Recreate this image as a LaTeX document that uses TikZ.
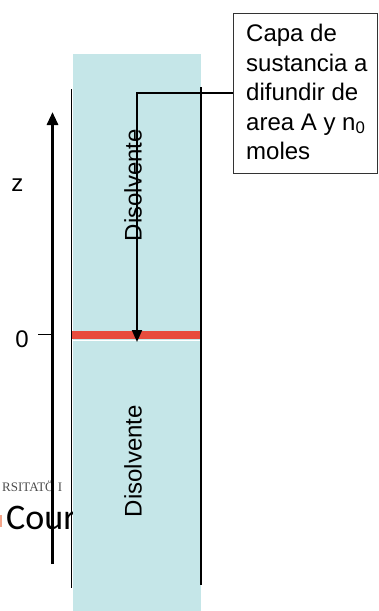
\documentclass[tikz,border=0pt]{standalone}
\usepackage{fontspec}
\setmainfont{Liberation Sans}
\newfontfamily\wmfont{Carlito}
\newfontfamily\wmserif{Liberation Serif}
\usetikzlibrary{arrows.meta}
\definecolor{solv}{HTML}{C5E6E8}
\definecolor{layer}{HTML}{E84C3D}
\definecolor{wmorange}{HTML}{F4A58A}
\begin{document}
\begin{tikzpicture}[x=1pt,y=-1pt,
  lbl/.style={font=\fontsize{24}{29.5}\selectfont, inner sep=0pt},
  thinline/.style={line width=1.5pt},
  axis/.style={line width=3pt,-{Triangle[width=11pt,length=13pt]}},
  callout/.style={line width=2pt,-{Triangle[width=10pt,length=12pt]}},
  boxstyle/.style={draw=black!80, line width=1pt, minimum width=144pt, minimum height=160pt, inner sep=0pt}
]
\useasboundingbox (0,0) rectangle (379,611);
% watermark fragments
\node[anchor=base west, inner sep=0pt, font=\wmserif\fontsize{13}{13}\selectfont, text=black!70] (wm1) at (2,491) {RSITAT\"O I};
\node[anchor=base west, inner sep=0pt, font=\wmfont\fontsize{36}{36}\selectfont] (wm2) at (6,529) {Cour};
\fill[wmorange] (0,515) rectangle (1.5,527);
% solvent column
\fill[solv] (73,54) rectangle (201,611);
\fill[layer] (71,331) rectangle (201,339);
\fill[white] (73,339.6) rectangle (201,341.2);
% side lines
\coordinate (ltop) at (71.5,89);
\coordinate (lbot) at (71.5,588);
\coordinate (rtop) at (201,87);
\coordinate (rbot) at (201,585);
\draw[thinline] (ltop) -- (lbot);
\draw[thinline] (rtop) -- (rbot);
% z axis
\coordinate (zb) at (52.5,564);
\coordinate (zt) at (52.5,112);
\draw[axis] (zb) -- (zt);
\coordinate (tick0) at (38,334.5);
\coordinate (tick1) at (52.5,334.5);
\draw[line width=1.5pt] (tick0) -- (tick1);
\node[lbl] (zlab) at (17.5,185) {z};
\node[lbl] (zero) at (22,339) {0};
% labels
\node[lbl, rotate=90] (dis1) at (133,185) {Disolvente};
\node[lbl, rotate=90] (dis2) at (133,461) {Disolvente};
% callout box
\node[boxstyle, fill=white] (box) at (305,93) {};
\node[lbl, anchor=west, align=left] (boxtext) at (246,92) {Capa de\\sustancia a\\difundir de\\area A y n\textsubscript{0}\\moles};
\coordinate (tip) at (137,342);
\draw[callout] (box.west) -| (tip);
\end{tikzpicture}
\end{document}
